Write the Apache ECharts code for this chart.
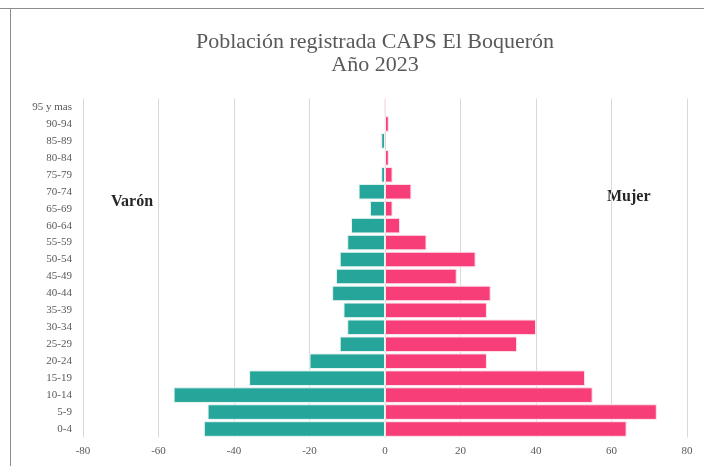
<!DOCTYPE html>
<html>
<head>
<meta charset="utf-8">
<script src="https://cdn.jsdelivr.net/npm/echarts@6/dist/echarts.min.js"></script>
<style>html,body{margin:0;padding:0;background:#fff}#c{width:704px;height:466px}</style>
</head>
<body>
<div id="c"></div>
<script>
const categories = ['0-4','5-9','10-14','15-19','20-24','25-29','30-34','35-39','40-44','45-49','50-54','55-59','60-64','65-69','70-74','75-79','80-84','85-89','90-94','95 y mas'];
const varon = [48, 47, 56, 36, 20, 12, 10, 11, 14, 13, 12, 10, 9, 4, 7, 1, 0, 1, 0, 0];
const mujer = [64, 72, 55, 53, 27, 35, 40, 27, 28, 19, 24, 11, 4, 2, 7, 2, 1, 0, 1, 0];
const xTicks = [-80, -60, -40, -20, 0, 20, 40, 60, 80];

const serif = '"Liberation Serif", "DejaVu Serif", serif';
const chart = echarts.init(document.getElementById('c'));
chart.setOption({
  animation: false,
  backgroundColor: '#fff',
  title: {
    text: 'Población registrada CAPS El Boquerón\nAño 2023',
    left: 370, textAlign: 'center', top: 26,
    textStyle: { fontFamily: serif, fontSize: 22, fontWeight: 'normal', color: '#595959', lineHeight: 23 }
  },
  grid: { left: 83, right: 17, top: 98.5, bottom: 28.5, containLabel: false },
  xAxis: {
    type: 'value', min: xTicks[0], max: xTicks[xTicks.length - 1], interval: 20,
    axisLine: { show: false }, axisTick: { show: false },
    splitLine: { show: true, lineStyle: { color: '#d9d9d9', width: 1 } },
    axisLabel: { fontFamily: serif, fontSize: 11, color: '#595959', margin: 8 }
  },
  yAxis: {
    type: 'category', data: categories,
    axisLine: { show: false }, axisTick: { show: false },
    axisLabel: { fontFamily: serif, fontSize: 11, color: '#595959', margin: 11 }
  },
  series: [
    { name: 'Varón', type: 'bar', stack: 't', data: varon.map(v => -v), barCategoryGap: '8%',
      itemStyle: { color: '#26a69a', borderColor: '#e8f5f3', borderWidth: 1 } },
    { name: 'Mujer', type: 'bar', stack: 't', data: mujer, barCategoryGap: '8%',
      itemStyle: { color: '#f73e78', borderColor: '#fde4ec', borderWidth: 1 } }
  ],
  graphic: [
    { type: 'line', shape: { x1: 0, y1: 8.5, x2: 704, y2: 8.5 }, style: { stroke: '#8c8c8c', lineWidth: 1 } },
    { type: 'line', shape: { x1: 10.5, y1: 8, x2: 10.5, y2: 466 }, style: { stroke: '#8c8c8c', lineWidth: 1 } },
    { type: 'text', left: 111, top: 194, style: { text: 'Varón', font: 'bold 16px ' + serif, fill: '#262626' } },
    { type: 'text', left: 607, top: 189, style: { text: 'Mujer', font: 'bold 16px ' + serif, fill: '#262626' } }
  ]
});
</script>
</body>
</html>
